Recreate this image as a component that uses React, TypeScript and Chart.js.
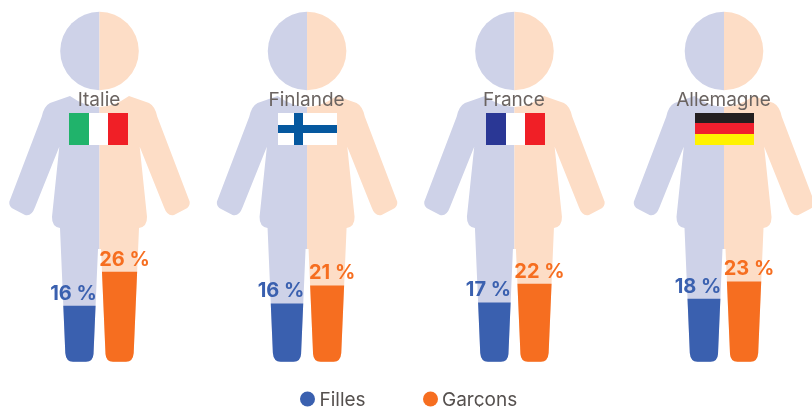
import React, { useEffect, useRef } from "react";
import { Chart, registerables } from "chart.js";

Chart.register(...registerables);

const countries = ["Italie", "Finlande", "France", "Allemagne"];
const fillesValues = [15.9, 16.5, 16.8, 17.9];
const garconsValues = [25.6, 21.7, 22.2, 22.8];
const fillesLabels = ["16 %", "16 %", "17 %", "18 %"];
const garconsLabels = ["26 %", "21 %", "22 %", "23 %"];
const seriesNames = ["Filles", "Garçons"];

const BLUE = "#3A60AF";
const ORANGE = "#F66E20";
const PALE_BLUE = "#CED2E8";
const PALE_ORANGE = "#FDDDC6";
const GREY = "#6B6461";
const LEGEND_TEXT = "#55504E";
const FIGURE_SHIFT = [0, -0.6, -1.4, 0];
const FLAG_SHIFT: Record<string, number> = { Italie: -1, France: 1 };
const FONT = "Inter, sans-serif";

// Half a silhouette, dx from the body's axis and y from the top of the canvas.
function bodyHalf(ctx: CanvasRenderingContext2D, c: number, s: number) {
  const X = (dx: number) => c + s * dx;
  ctx.moveTo(X(0), 107);
  ctx.quadraticCurveTo(X(-14), 107, X(-29.5), 96);
  ctx.lineTo(X(-49.5), 103);
  ctx.quadraticCurveTo(X(-55.5), 106, X(-57.8), 116.7);
  ctx.lineTo(X(-90.2), 201.7);
  ctx.quadraticCurveTo(X(-90.8), 207, X(-85.5), 209.3);
  ctx.lineTo(X(-74.5), 215);
  ctx.quadraticCurveTo(X(-67.8), 216.7, X(-64.5), 207.3);
  ctx.lineTo(X(-40.2), 146.7);
  ctx.lineTo(X(-47.5), 216.7);
  ctx.quadraticCurveTo(X(-47.8), 226.7, X(-39.5), 228);
  ctx.lineTo(X(-34.2), 353);
  ctx.quadraticCurveTo(X(-33.5), 361.7, X(-26.5), 361.7);
  ctx.lineTo(X(-13.5), 361.7);
  ctx.quadraticCurveTo(X(-6.5), 361.7, X(-6), 354);
  ctx.lineTo(X(-1.5), 249);
  ctx.lineTo(X(0), 249);
  ctx.closePath();
}

function drawFlag(ctx: CanvasRenderingContext2D, name: string, c: number) {
  const x = Math.round(c - 29.5 + (FLAG_SHIFT[name] || 0));
  const y = 113;
  const w = 59;
  const h = 32;
  const rect = (col: string, a: number, b: number, wd: number, hg: number) => {
    ctx.fillStyle = col;
    ctx.fillRect(a, b, wd, hg);
  };
  if (name === "Italie") {
    rect("#FFFFFF", x, y, w, h);
    rect("#20B36B", x, y, 20, h);
    rect("#F01F26", x + 39, y, 20, h);
  } else if (name === "France") {
    rect("#FFFFFF", x, y, w, h);
    rect("#2A3795", x, y, 20, h);
    rect("#F01F26", x + 39, y, 20, h);
  } else if (name === "Finlande") {
    rect("#FFFFFF", x, y, w, h);
    rect("#05589F", x + 16, y, 9, h);
    rect("#05589F", x, y + 12, w, 8);
  } else {
    rect("#231F20", x, y, w, 10);
    rect("#F01F2E", x, y + 10, w, 11);
    rect("#FFF200", x, y + 21, w, 11);
  }
}

const pictogram = {
  id: "pictogram",
  beforeDatasetsDraw(chart: any) {
    const { ctx, scales } = chart;
    const centers = countries.map((_, i) => scales.x.getPixelForValue(i) + FIGURE_SHIFT[i]);
    ctx.save();
    centers.forEach((c) => {
      ctx.fillStyle = PALE_BLUE;
      ctx.beginPath();
      ctx.arc(c, 51, 39.3, Math.PI / 2, (3 * Math.PI) / 2);
      ctx.closePath();
      ctx.fill();
      ctx.beginPath();
      bodyHalf(ctx, c, 1);
      ctx.fill();
      ctx.fillStyle = PALE_ORANGE;
      ctx.beginPath();
      ctx.arc(c, 51, 39.3, -Math.PI / 2, Math.PI / 2);
      ctx.closePath();
      ctx.fill();
      ctx.beginPath();
      bodyHalf(ctx, c, -1);
      ctx.fill();
    });
    ctx.beginPath();
    centers.forEach((c) => {
      bodyHalf(ctx, c, 1);
      bodyHalf(ctx, c, -1);
    });
    ctx.clip();
  },
  afterDatasetsDraw(chart: any) {
    const { ctx, scales } = chart;
    ctx.restore();
    ctx.save();
    ctx.textBaseline = "alphabetic";
    ctx.textAlign = "center";
    countries.forEach((name, i) => {
      const c = scales.x.getPixelForValue(i) + FIGURE_SHIFT[i];
      ctx.font = `400 19px ${FONT}`;
      ctx.fillStyle = GREY;
      ctx.fillText(name, c - 0.5, 106);
      drawFlag(ctx, name, c);
      ctx.font = `700 20px ${FONT}`;
      const girl = chart.getDatasetMeta(0).data[i];
      const boy = chart.getDatasetMeta(1).data[i];
      ctx.fillStyle = BLUE;
      ctx.fillText(fillesLabels[i], c - 26, girl.y - 6.5);
      ctx.fillStyle = ORANGE;
      ctx.fillText(garconsLabels[i], c + 25, boy.y - 6.5);
    });
    // Legend
    const items = [
      { x: 307.5, tx: 319.5 },
      { x: 430.5, tx: 442 },
    ];
    ctx.textAlign = "left";
    ctx.font = `400 19px ${FONT}`;
    chart.data.datasets.forEach((d: any, i: number) => {
      ctx.fillStyle = d.backgroundColor;
      ctx.beginPath();
      ctx.arc(items[i].x, 399, 7.5, 0, Math.PI * 2);
      ctx.fill();
      ctx.fillStyle = LEGEND_TEXT;
      ctx.fillText(d.label, items[i].tx, 405.5);
    });
    ctx.restore();
  },
};

export default function App() {
  const ref = useRef<HTMLCanvasElement>(null);
  useEffect(() => {
    document.body.style.margin = "0";
    const chart = new Chart(ref.current!, {
      type: "bar",
      data: {
        labels: countries,
        datasets: [
          { label: seriesNames[0], data: fillesValues, backgroundColor: BLUE, barThickness: 44, clip: false, borderWidth: 0 },
          { label: seriesNames[1], data: garconsValues, backgroundColor: ORANGE, barThickness: 44, clip: false, borderWidth: 0 },
        ],
      } as any,
      options: {
        responsive: false,
        animation: false,
        layout: { padding: { left: 99.5, right: 88, top: 11.7, bottom: 45.3 } },
        plugins: { legend: { display: false }, tooltip: { enabled: false } },
        scales: {
          x: { display: false, offset: false, grid: { display: false } },
          y: { display: false, min: 0, max: 100, grid: { display: false } },
        },
      } as any,
      plugins: [pictogram],
    });
    return () => chart.destroy();
  }, []);
  return <canvas ref={ref} width={812} height={407} style={{ display: "block", width: 812, height: 407 }} />;
}
